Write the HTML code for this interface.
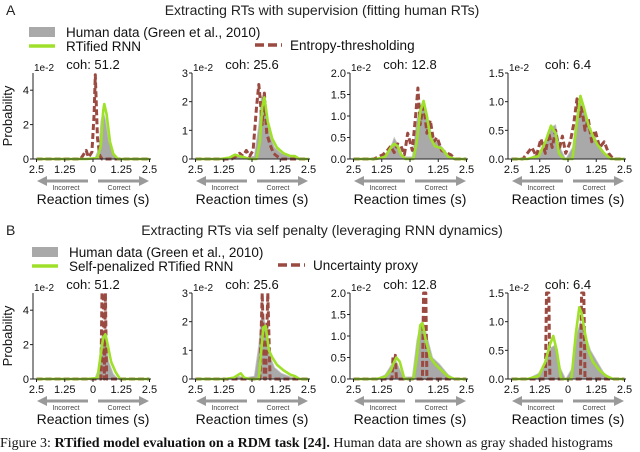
<!DOCTYPE html>
<html><head><meta charset="utf-8"><style>
body{margin:0;background:#fff;width:640px;height:446px;overflow:hidden;position:relative;font-family:"Liberation Sans",sans-serif}
svg{position:absolute;left:0;top:0}
.cap{position:absolute;left:0;top:436px;font-family:"Liberation Serif",serif;font-size:14px;white-space:nowrap;color:#111}
</style></head><body>
<svg id="fig" width="640" height="446" viewBox="0 0 640 446"></svg>
<div class="cap">Figure 3: <b>RTified model evaluation on a RDM task [24].</b> Human data are shown as gray shaded histograms</div>
<script>
// ---- data (t in seconds: negative = incorrect, positive = correct; values in 1e-2) ----
const cohLabels = ["51.2","25.6","12.8","6.4"];
const yMaxes = [5,3,2,1.5];
const yTicksA = [[0,2,4],[0,1,2,3],[0,0.5,1,1.5,2],[0,0.5,1,1.5]];
const xTickLabels = ["2.5","1.25","0","1.25","2.5"];
const xTickVals = [-2.5,-1.25,0,1.25,2.5];
// Panel A human
const hA1t=[-2.5,-0.3,0.1,0.25,0.35,0.45,0.55,0.7,0.9,1.1,2.5], hA1v=[0,0,0.1,0.6,2.2,2.8,2.3,1.0,0.3,0,0];
const hA2t=[-2.5,-1.2,-0.8,-0.6,-0.3,0.1,0.3,0.4,0.5,0.6,0.8,1.0,1.3,1.8,2.5], hA2v=[0,0,0.05,0.1,0.05,0.1,1.2,2.1,2.3,1.8,0.8,0.4,0.2,0.05,0];
const hA3t=[-2.5,-1.5,-1.1,-0.8,-0.7,-0.55,-0.3,0.1,0.3,0.45,0.6,0.8,1.0,1.3,1.7,2.0,2.5], hA3v=[0,0,0.1,0.35,0.5,0.35,0.05,0.05,0.9,1.25,1.3,0.9,0.5,0.35,0.1,0,0];
const hA4t=[-2.5,-1.8,-1.3,-1.0,-0.75,-0.55,-0.35,-0.1,0.2,0.4,0.55,0.75,1.0,1.3,1.6,2.0,2.5], hA4v=[0,0,0.1,0.3,0.55,0.6,0.2,0,0.2,0.8,1.0,0.8,0.5,0.3,0.1,0,0];
// Panel A RNN (green)
const gA1t=[-2.5,-0.3,0.2,0.35,0.45,0.5,0.6,0.75,0.9,1.1,2.5], gA1v=[0,0,0.05,0.8,2.8,3.2,2.6,1.0,0.3,0,0];
const gA2t=[-2.5,-1.4,-1.0,-0.75,-0.55,-0.3,-0.1,0.2,0.35,0.45,0.55,0.7,0.9,1.1,1.4,1.7,1.9,2.1,2.5], gA2v=[0,0,0.05,0.15,0.1,0.05,0,0,0.6,1.8,2.15,1.3,0.7,0.4,0.2,0.1,0.1,0,0];
const gA3t=[-2.5,-1.5,-1.1,-0.8,-0.7,-0.55,-0.4,-0.2,0.15,0.3,0.45,0.6,0.75,0.9,1.1,1.4,1.7,2.0,2.5], gA3v=[0,0,0.05,0.3,0.35,0.3,0.1,0,0,0.4,1.1,1.35,1.0,0.5,0.3,0.25,0.05,0,0];
const gA4t=[-2.5,-1.8,-1.3,-1.0,-0.75,-0.55,-0.4,-0.2,0.2,0.35,0.55,0.7,0.9,1.1,1.3,1.6,1.9,2.5], gA4v=[0,0,0.05,0.3,0.58,0.45,0.1,0,0,0.5,1.1,0.9,0.6,0.4,0.25,0.1,0,0];
// Panel A entropy-thresholding (brown dashed)
const bA1t=[-2.5,-0.55,-0.4,-0.3,-0.2,-0.05,0.05,0.1,0.15,0.2,0.3,0.4,2.5], bA1v=[0,0,0.3,0.5,0.1,0.4,2.6,4.9,3.0,1.2,0.2,0,0];
const bA2t=[-2.5,-0.9,-0.7,-0.55,-0.4,-0.25,-0.1,0.05,0.2,0.3,0.35,0.45,0.55,0.65,0.8,0.95,1.1,1.3,2.5], bA2v=[0,0,0.1,0.2,0.1,0.3,0.1,0.3,1.8,2.6,2.2,1.2,2.3,0.9,0.5,0.2,0.1,0,0];
const bA3t=[-2.5,-1.6,-1.2,-1.0,-0.85,-0.7,-0.55,-0.4,-0.25,-0.1,0.1,0.25,0.35,0.45,0.6,0.75,0.9,1.05,1.2,1.4,1.6,1.8,2.0,2.5], bA3v=[0,0,0.1,0.2,0.3,0.15,0.35,0.3,0.1,0.6,0.2,1.0,1.65,0.8,1.3,0.6,0.9,0.4,0.5,0.2,0.15,0.1,0,0];
const bA4t=[-2.5,-2.0,-1.8,-1.6,-1.4,-1.2,-1.0,-0.85,-0.7,-0.55,-0.4,-0.25,-0.1,0.1,0.25,0.4,0.5,0.6,0.75,0.9,1.05,1.2,1.4,1.6,1.8,2.0,2.5], bA4v=[0,0,0.1,0.2,0.05,0.35,0.1,0.45,0.2,0.5,0.15,0.4,0.1,0.3,0.6,1.05,0.7,0.9,0.5,0.7,0.3,0.5,0.2,0.3,0.1,0,0];
// Panel B human
const hB1t=hA1t, hB1v=[0,0,0.1,0.6,2.2,2.8,2.3,1.0,0.3,0,0];
const hB2t=hA2t, hB2v=hA2v;
const hB3t=hA3t, hB3v=hA3v;
const hB4t=hA4t, hB4v=hA4v;
// Panel B self-penalized RNN (green)
const gB1t=[-2.5,-0.3,0.2,0.35,0.45,0.55,0.65,0.8,1.0,1.2,2.5], gB1v=[0,0,0.05,1.5,2.4,2.6,2.0,1.0,0.4,0,0];
const gB2t=[-2.5,-1.2,-0.8,-0.6,-0.5,-0.35,-0.1,0.3,0.4,0.5,0.6,0.75,0.9,1.1,1.4,1.7,1.9,2.1,2.5], gB2v=[0,0,0.05,0.15,0.2,0.05,0,0,0.9,1.8,1.85,1.0,0.75,0.5,0.3,0.15,0.1,0,0];
const gB3t=[-2.5,-1.5,-1.1,-0.85,-0.7,-0.6,-0.45,-0.25,0.15,0.3,0.45,0.55,0.7,0.9,1.1,1.4,1.7,2.0,2.5], gB3v=[0,0,0.05,0.2,0.4,0.5,0.4,0,0,0.5,1.25,1.3,0.9,0.5,0.35,0.2,0.05,0,0];
const gB4t=[-2.5,-1.8,-1.3,-1.0,-0.8,-0.65,-0.5,-0.3,0.15,0.35,0.5,0.6,0.75,0.9,1.1,1.4,1.7,2.0,2.5], gB4v=[0,0,0.05,0.3,0.6,0.75,0.5,0,0,0.8,1.25,1.15,0.8,0.5,0.3,0.15,0.05,0,0];
// Panel B uncertainty proxy (brown dashed spikes)
const bB1t=[-2.5,0.35,0.4,0.45,0.5,0.55,0.6,2.5], bB1v=[0,0,5,5,0,5,0,0];
const bB2t=[-2.5,0.35,0.45,0.55,0.6,0.7,0.8,2.5], bB2v=[0,0,3,0,0,3,0,0];
const bB3t=[-2.5,-0.8,-0.75,-0.65,-0.6,0.55,0.6,0.7,0.75,0.85,2.5], bB3v=[0,0,0.55,0.55,0,0,2.0,2.0,0,0,0];
const bB4t=[-2.5,-1.0,-0.95,-0.85,-0.8,0.55,0.6,0.7,0.75,2.5], bB4v=[0,0,1.5,1.5,0,0,1.5,1.5,0,0];

const humanT=[[hA1t,hA2t,hA3t,hA4t],[hB1t,hB2t,hB3t,hB4t]], humanV=[[hA1v,hA2v,hA3v,hA4v],[hB1v,hB2v,hB3v,hB4v]];
const rnnT=[[gA1t,gA2t,gA3t,gA4t],[gB1t,gB2t,gB3t,gB4t]], rnnV=[[gA1v,gA2v,gA3v,gA4v],[gB1v,gB2v,gB3v,gB4v]];
const dashT=[[bA1t,bA2t,bA3t,bA4t],[bB1t,bB2t,bB3t,bB4t]], dashV=[[bA1v,bA2v,bA3v,bA4v],[bB1v,bB2v,bB3v,bB4v]];

const NS="http://www.w3.org/2000/svg";
const svg=document.getElementById('fig');
function el(tag,attrs,parent,text){const e=document.createElementNS(NS,tag);for(const k in attrs)e.setAttribute(k,attrs[k]);if(text!==undefined)e.textContent=text;(parent||svg).appendChild(e);return e;}
const GREEN="#9fe02a", BROWN="#9a4a40", GRAY="#a9a9a9";

const rows=[{label:"A",title:"Extracting RTs with supervision (fitting human RTs)",y0:0,green:"RTified RNN",brown:"Entropy-thresholding",bx:255},
            {label:"B",title:"Extracting RTs via self penalty (leveraging RNN dynamics)",y0:220,green:"Self-penalized RTified RNN",brown:"Uncertainty proxy",bx:278}];
rows.forEach((r,ri)=>{
  const pl=el('text',{x:6,y:r.y0+15,'font-size':14,fill:'#222'},svg,r.label);
  
  
  const tt=el('text',{x:322,y:r.y0+15,'font-size':14,'text-anchor':'middle',fill:'#222'},svg,r.title);
  
  
  const lg=el('g',{},svg);
  
  
  const off=ri?3:0;
  el('rect',{x:29+off,y:r.y0+27,width:26,height:10,fill:GRAY},lg);
  el('text',{x:66+off,y:r.y0+37,'font-size':13.5,fill:'#111'},lg,"Human data (Green et al., 2010)");
  el('line',{x1:29+off,x2:55+off,y1:r.y0+46,y2:r.y0+46,stroke:GREEN,'stroke-width':3.5},lg);
  el('text',{x:66+off,y:r.y0+51,'font-size':13.5,fill:'#111'},lg,r.green);
  el('line',{x1:r.bx,x2:r.bx+27,y1:r.y0+45,y2:r.y0+45,stroke:BROWN,'stroke-width':3.5,'stroke-dasharray':'9,4'},lg);
  el('text',{x:r.bx+35,y:r.y0+50,'font-size':13.5,fill:'#111'},lg,r.brown);
});

const axisXs=[33,192,350,508];
function fmt(v,p){ if(p<2) return String(v); return v.toFixed(1); }
for(let ri=0;ri<2;ri++){
  const top=ri?293:73, bot=ri?379:159;
  for(let p=0;p<4;p++){
    const ax=axisXs[p];
    const g=el('g',{},svg);
    
    
    const xs=t=>ax+60+t*22.6;
    const ys=v=>bot-(v/yMaxes[p])*(bot-top);
    const T=humanT[ri][p],V=humanV[ri][p];
    let d='M'+xs(T[0])+','+ys(0);
    T.forEach((t,i)=>d+=' L'+xs(t).toFixed(1)+','+ys(V[i]).toFixed(1));
    d+=' L'+xs(T[T.length-1])+','+ys(0)+'Z';
    const ha=el('path',{d:d,fill:GRAY,stroke:'#c8c8c8','stroke-width':0.8},g);
    
    
    const DT=dashT[ri][p],DV=dashV[ri][p];
    const dp=el('polyline',{points:DT.map((t,i)=>xs(t).toFixed(1)+','+ys(DV[i]).toFixed(1)).join(' '),fill:'none',stroke:BROWN,'stroke-width':3,'stroke-dasharray':'6,3','stroke-linejoin':'round'},g);
    
    
    const GT=rnnT[ri][p],GV=rnnV[ri][p];
    const gp=el('polyline',{points:GT.map((t,i)=>xs(t).toFixed(1)+','+ys(GV[i]).toFixed(1)).join(' '),fill:'none',stroke:GREEN,'stroke-width':2.6,'stroke-linejoin':'round'},g);
    
    
    el('line',{x1:ax,x2:ax,y1:top,y2:bot,stroke:'#222','stroke-width':1},g);
    el('line',{x1:ax,x2:ax+118,y1:bot,y2:bot,stroke:'#222','stroke-width':1},g);
    yTicksA[p].forEach(v=>{
      el('line',{x1:ax-3,x2:ax,y1:ys(v),y2:ys(v),stroke:'#222'},g);
      el('text',{x:ax-4,y:ys(v)+4,'font-size':11,'text-anchor':'end',fill:'#111'},g,fmt(v,p));
    });
    el('text',{x:ax+1,y:top-2,'font-size':10,fill:'#111'},g,"1e-2");
    el('text',{x:ax+60,y:top-4,'font-size':13,'text-anchor':'middle',fill:'#111'},g,"coh: "+cohLabels[p]);
    xTickVals.forEach((t,i)=>{
      el('line',{x1:xs(t),x2:xs(t),y1:bot,y2:bot+3,stroke:'#222'},g);
      el('text',{x:xs(t),y:bot+14,'font-size':11,'text-anchor':'middle',fill:'#111'},g,xTickLabels[i]);
    });
    const ay=bot+22;
    el('line',{x1:ax+12,x2:ax+55,y1:ay,y2:ay,stroke:'#9a9a9a','stroke-width':3},g);
    el('polygon',{points:(ax+4)+','+ay+' '+(ax+14)+','+(ay-5)+' '+(ax+14)+','+(ay+5),fill:'#9a9a9a'},g);
    el('line',{x1:ax+65,x2:ax+108,y1:ay,y2:ay,stroke:'#9a9a9a','stroke-width':3},g);
    el('polygon',{points:(ax+116)+','+ay+' '+(ax+106)+','+(ay-5)+' '+(ax+106)+','+(ay+5),fill:'#9a9a9a'},g);
    el('text',{x:ax+33,y:ay+9,'font-size':7,'text-anchor':'middle',fill:'#444'},g,"Incorrect");
    el('text',{x:ax+86,y:ay+9,'font-size':7,'text-anchor':'middle',fill:'#444'},g,"Correct");
    const xt=el('text',{x:ax+60,y:bot+45,'font-size':14,'text-anchor':'middle',fill:'#111'},g,"Reaction times (s)");
    
    
    if(p===0){
      const yt=el('text',{x:0,y:0,'font-size':13,'text-anchor':'middle',fill:'#111',transform:'translate(12,'+((top+bot)/2)+') rotate(-90)'},g,"Probability");
      
      
    }
  }
}
</script>
</body></html>
